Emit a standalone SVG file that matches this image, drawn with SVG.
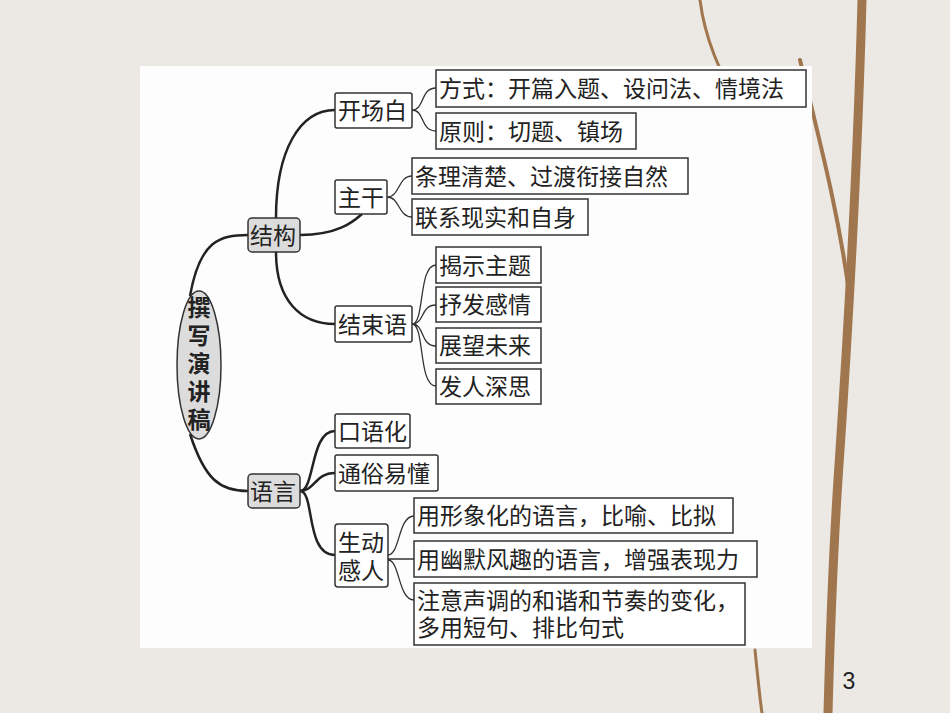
<svg xmlns="http://www.w3.org/2000/svg" width="950" height="713" viewBox="0 0 950 713">
<style>
text{font-family:"Noto Sans CJK SC","Liberation Sans",sans-serif;font-size:23px;fill:#222}
.b{fill:#fff;stroke:#333;stroke-width:1.5}
.g{fill:#dcdcdc;stroke:#333;stroke-width:1.5}
.c{fill:none;stroke:#222;stroke-width:2.5}
.t{fill:none;stroke:#333;stroke-width:1.3}
.br{fill:none;stroke:#a0764e;stroke-linecap:round}
</style>
<rect width="950" height="713" fill="#ece8e3"/>
<g id="branches">
<path class="br" stroke-width="9" d="M862 0 C858 150 850 300 840 450 C832 560 830 640 828 713"/>
<path class="br" stroke-width="4" d="M850 300 C840 220 822 150 800 60"/>
<path class="br" stroke-width="3" d="M700 0 C705 40 720 70 735 100"/>
<path class="br" stroke-width="3" d="M755 650 C758 680 760 700 762 713"/>
</g>
<rect x="140" y="66" width="672" height="582" fill="#fdfdfd"/>
<g id="connectors">
<path class="c" d="M190 296 C200 240 220 235 248 235"/>
<path class="c" d="M190 434 C205 480 220 491 248 491"/>
<path class="c" d="M276 218 C276 150 300 110 335 110"/>
<path class="c" d="M300 235 C340 235 355 220 362 214"/>
<path class="c" d="M276 252 C276 300 300 324 335 324"/>
<path class="c" d="M300 491 C315 491 310 431 335 431"/>
<path class="c" d="M300 491 C315 491 315 473 335 473"/>
<path class="c" d="M300 491 C315 491 305 555 335 555"/>
<path class="t" d="M412 110 C425 110 420 88 436 88 M412 110 C425 110 420 131 436 131"/>
<path class="t" d="M387 197 C400 197 398 176 412 176 M387 197 C400 197 398 217 412 217"/>
<path class="t" d="M412 324 C425 324 418 265 436 265 M412 324 C425 324 420 305 436 305 M412 324 C425 324 420 346 436 346 M412 324 C425 324 418 386 436 386"/>
<path class="t" d="M388 555 C400 555 398 516 414 516 M388 559 L414 559 M388 560 C400 560 398 600 414 600"/>
</g>
<g id="root"><ellipse cx="199" cy="365" rx="22" ry="74" class="g"/>
<text x="199" font-weight="bold" font-size="19" text-anchor="middle"><tspan x="199" y="316">撰</tspan><tspan x="199" y="344">写</tspan><tspan x="199" y="372">演</tspan><tspan x="199" y="400">讲</tspan><tspan x="199" y="428">稿</tspan></text></g>
<g id="n-jiegou"><rect x="248" y="218" width="52" height="34" rx="4" class="g"/><text x="250" y="244">结构</text></g>
<g id="n-yuyan"><rect x="248" y="474" width="52" height="34" rx="4" class="g"/><text x="250" y="500">语言</text></g>
<g id="n-kcb"><rect x="335" y="93" width="77" height="35" rx="2" class="b"/><text x="338" y="119">开场白</text></g>
<g id="n-fs"><rect x="436" y="70" width="370" height="37" class="b"/><text x="439" y="97">方式：开篇入题、设问法、情境法</text></g>
<g id="n-yz"><rect x="436" y="113" width="200" height="36" class="b"/><text x="439" y="140">原则：切题、镇场</text></g>
<g id="n-zg"><rect x="335" y="180" width="52" height="34" rx="2" class="b"/><text x="338" y="206">主干</text></g>
<g id="n-tl"><rect x="412" y="158" width="276" height="36" class="b"/><text x="415" y="185">条理清楚、过渡衔接自然</text></g>
<g id="n-lx"><rect x="412" y="199" width="176" height="36" class="b"/><text x="415" y="226">联系现实和自身</text></g>
<g id="n-jsy"><rect x="335" y="306" width="77" height="36" rx="2" class="b"/><text x="338" y="333">结束语</text></g>
<g id="n-js"><rect x="436" y="247" width="105" height="36" class="b"/><text x="439" y="274">揭示主题</text></g>
<g id="n-sf"><rect x="436" y="287" width="105" height="35" class="b"/><text x="439" y="313">抒发感情</text></g>
<g id="n-zw"><rect x="436" y="328" width="105" height="35" class="b"/><text x="439" y="354">展望未来</text></g>
<g id="n-fr"><rect x="436" y="369" width="105" height="35" class="b"/><text x="439" y="395">发人深思</text></g>
<g id="n-kyh"><rect x="335" y="414" width="75" height="34" rx="2" class="b"/><text x="338" y="440">口语化</text></g>
<g id="n-ts"><rect x="335" y="455" width="103" height="36" rx="2" class="b"/><text x="338" y="482">通俗易懂</text></g>
<g id="n-sd"><rect x="335" y="524" width="53" height="63" rx="3" class="b"/><text x="338" y="551">生动</text><text x="338" y="579">感人</text></g>
<g id="n-xx"><rect x="414" y="498" width="319" height="35" class="b"/><text x="417" y="524">用形象化的语言，比喻、比拟</text></g>
<g id="n-ym"><rect x="414" y="541" width="343" height="36" class="b"/><text x="417" y="568">用幽默风趣的语言，增强表现力</text></g>
<g id="n-zy"><rect x="414" y="583" width="331" height="62" class="b"/><text x="417" y="609">注意声调的和谐和节奏的变化，</text><text x="417" y="636">多用短句、排比句式</text></g>
<text x="849" y="689" font-size="16" text-anchor="middle" style="font-family:'Liberation Sans',sans-serif">3</text>
</svg>
